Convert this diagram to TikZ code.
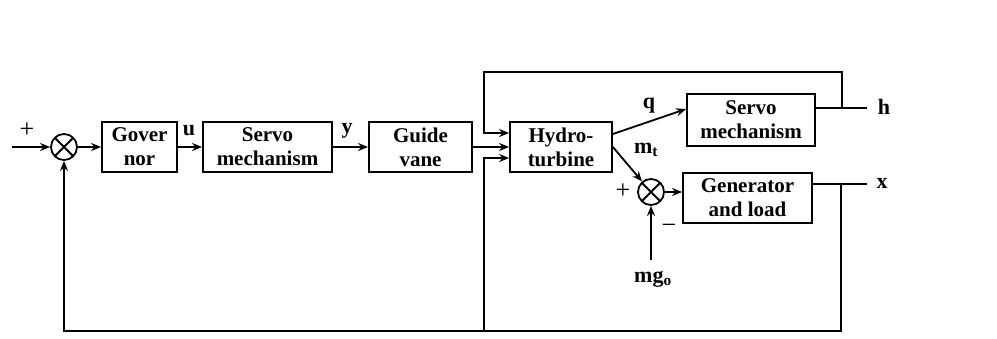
\documentclass[tikz,border=0pt]{standalone}
\usepackage{fontspec}
\setmainfont{Liberation Serif}
\usetikzlibrary{arrows.meta,calc}
\begin{document}
\begin{tikzpicture}[x=1pt,y=-1pt,
 line width=1.8pt,
 box/.style={draw,rectangle,inner sep=0pt,align=center,font=\fontsize{21}{24}\selectfont\bfseries},
 sumj/.style={draw,circle,minimum size=26pt,inner sep=0pt,path picture={\draw[line width=1.8pt] (path picture bounding box.north west)--(path picture bounding box.south east) (path picture bounding box.north east)--(path picture bounding box.south west);}},
 lbl/.style={font=\fontsize{22}{24}\selectfont\bfseries,inner sep=0pt},
 sgn/.style={font=\fontsize{26}{26}\selectfont,inner sep=0pt},
 arr/.style={-{Stealth[length=10pt,width=8pt]}},
]
\useasboundingbox (0,0) rectangle (997,339);

\node[sumj] (s1) at (64,147) {};
\node[box,minimum width=75pt,minimum height=50pt] (gov) at (139.5,147) {Gover\\nor};
\node[box,minimum width=129pt,minimum height=50pt] (servo1) at (267.5,147) {Servo\\mechanism};
\node[box,minimum width=103pt,minimum height=50pt] (guide) at (420.5,147) {Guide\\vane};
\node[box,minimum width=102pt,minimum height=50pt] (hydro) at (561,147) {Hydro-\\turbine};
\node[box,minimum width=128pt,minimum height=52pt] (servo2) at (751,120) {Servo\\mechanism};
\node[box,minimum width=129pt,minimum height=50pt] (gen) at (747.5,198) {Generator\\and load};
\node[sumj] (s2) at (651,192) {};

\coordinate (in) at (12,147);
\coordinate (hj) at (842,108);
\coordinate (hend) at (867,108);
\coordinate (xj) at (841,184);
\coordinate (xend) at (867,184);
\coordinate (tl) at (484,72);
\coordinate (t1) at (484,133);
\coordinate (bl) at (64,331);
\coordinate (bm) at (484,331);
\coordinate (b1) at (484,158);
\coordinate (mgs) at (651,260);

\draw[arr] (in) -- (s1);
\draw[arr] (s1) -- (gov);
\draw[arr] (gov) -- (servo1);
\draw[arr] (servo1) -- (guide);
\draw[arr] (guide) -- (hydro);
\draw[arr] ($(hydro.east)+(0,-13)$) -- ($(servo2.west)+(0,-11)$);
\draw[arr] (hydro.east) -- (s2);
\draw[arr] (s2) -- (s2 -| gen.west);
\draw (servo2.east |- hj) -- (hend);
\draw[arr] (hj) |- (tl) -- (t1) -- (t1 -| hydro.west);
\draw (gen.east |- xj) -- (xend);
\draw[arr] (xj) |- (bl) -- (s1);
\draw[arr] (bm) -- (b1) -- (b1 -| hydro.west);
\draw[arr] (mgs) -- (s2);

\node[sgn] (plus1) at (27,130) {+};
\node[lbl] (u) at (189,131) {u};
\node[lbl] (y) at (347,131) {y};
\node[lbl] (q) at (649,106) {q};
\node[lbl] (mt) at (646,150) {m\textsubscript{t}};
\node[lbl] (h) at (884,107) {h};
\node[lbl] (x) at (882,183) {x};
\node[sgn] (plus2) at (623,191) {+};
\node[sgn] (minus2) at (669,229) {\symbol{"2212}};
\node[lbl] (mg) at (653,279) {mg\textsubscript{o}};
\end{tikzpicture}
\end{document}
